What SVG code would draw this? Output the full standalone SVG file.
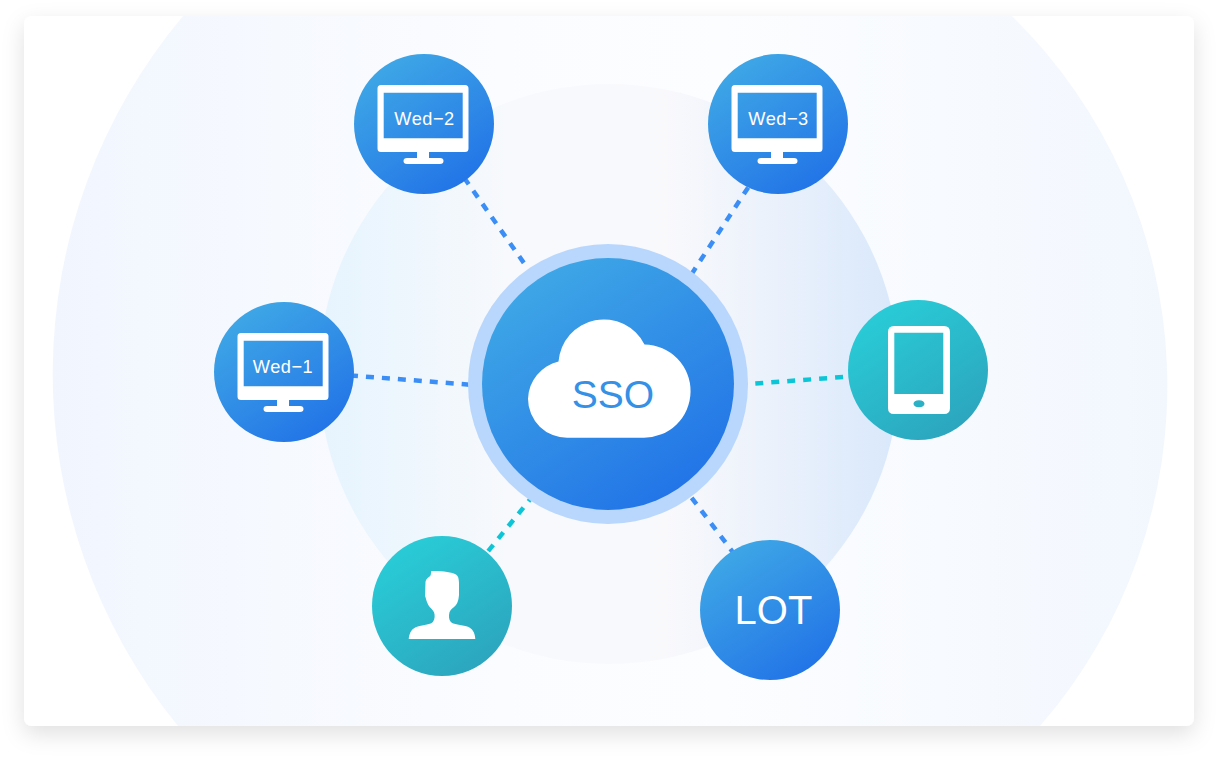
<svg xmlns="http://www.w3.org/2000/svg" width="1218" height="758" viewBox="0 0 1218 758">
<style>
.t{font-family:"Liberation Sans",Arial,sans-serif;text-anchor:middle}
.wt{fill:#fff;font-size:18.2px;letter-spacing:.5px}
.b{fill:url(#blue)}
.g{fill:url(#teal)}
.w{fill:#fff}
.c{fill:none;stroke-width:4.500;stroke-dasharray:8 8}
.cb{stroke:#3a8ef5}
.ct{stroke:#0cc6d8}
</style>
<defs>
<linearGradient id="blue" x1=".22" y1=".08" x2=".78" y2=".92"><stop offset="0" stop-color="#3ea6e6"/><stop offset="1" stop-color="#2375e7"/></linearGradient>
<linearGradient id="teal" x1=".22" y1=".08" x2=".78" y2=".92"><stop offset="0" stop-color="#29cbd7"/><stop offset="1" stop-color="#2ca6bf"/></linearGradient>
<linearGradient id="big" x1="0" y1="0" x2="1" y2="0"><stop offset="0" stop-color="#f1f6fe"/><stop offset=".4" stop-color="#fbfcff"/><stop offset=".6" stop-color="#fcfdff"/><stop offset="1" stop-color="#f2f7fe"/></linearGradient>
<linearGradient id="mid" x1="0" y1="0" x2="1" y2="0"><stop offset="0" stop-color="#e6f4fe"/><stop offset=".32" stop-color="#f7f9fc"/><stop offset=".6" stop-color="#f9f9fc"/><stop offset="1" stop-color="#d9e8fb"/></linearGradient>
<filter id="sh" x="-6%" y="-8%" width="112%" height="118%"><feDropShadow dx="0" dy="8" stdDeviation="11" flood-color="#000" flood-opacity=".12"/></filter>
<clipPath id="card"><rect x="24" y="16" width="1170" height="710" rx="8"/></clipPath>
<path id="mon" fill-rule="evenodd" d="M381 85H465Q468.500 85 468.500 88.500V148.500Q468.500 152 465 152H429V158H440Q443.500 158 443.500 161T440 164H407Q403.500 164 403.500 161T407 158H417V152H381Q377.500 152 377.500 148.500V88.500Q377.500 85 381 85ZM383.700 92.700V138.300H462.700V92.700Z"/>
</defs>
<g id="background">
<rect x="24" y="16" width="1170" height="710" rx="8" fill="#fff" filter="url(#sh)"/>
<g clip-path="url(#card)">
<path d="M183 16A557 557 0 0 0 178 726H1040A518 518 0 0 0 1012 16Z" fill="url(#big)"/>
<circle cx="609" cy="374" r="290" fill="url(#mid)"/>
</g>
</g>
<g id="connectors">
<path class="c cb" d="M464.100 177.700L526 266"/>
<path class="c cb" d="M748.200 187.400L690 276.500"/>
<path class="c cb" d="M350 375.400L470 384.700"/>
<path class="c ct" d="M755.300 383.500L850 376.500"/>
<path class="c ct" d="M488.200 551.100L532 497"/>
<path class="c cb" d="M682 485.100L735 555"/>
</g>
<g id="sso">
<circle cx="608" cy="384" r="140" fill="#b9d7fd"/>
<circle cx="608" cy="384" r="126" class="b"/>
<path class="w" d="M568 437.700A39 39 0 0 1 528 398.700A39.500 39.500 0 0 1 558.500 361.500A45.500 45.500 0 0 1 644.500 344.500A46.500 46.500 0 0 1 643.500 437.700Z"/>
<text class="t" x="613" y="408" font-size="39" fill="#3590e6">SSO</text>
</g>
<g id="wed-2">
<circle cx="424" cy="124" r="70" class="b"/>
<use href="#mon" class="w"/>
<text class="t wt" x="424.500" y="125">Wed−2</text>
</g>
<g id="wed-3">
<circle cx="778" cy="124" r="70" class="b"/>
<use href="#mon" x="354" class="w"/>
<text class="t wt" x="778.500" y="125">Wed−3</text>
</g>
<g id="wed-1">
<circle cx="284" cy="372" r="70" class="b"/>
<use href="#mon" x="-140" y="248" class="w"/>
<text class="t wt" x="283" y="373">Wed−1</text>
</g>
<g id="tablet">
<circle cx="918" cy="370" r="70" class="g"/>
<path class="w" fill-rule="evenodd" d="M894 326H944Q950 326 950 332V408Q950 414 944 414H894Q888 414 888 408V332Q888 326 894 326ZM894.300 332.700V394H943.300V332.700ZM919 400.200C915.500 400.200 913.500 401.800 913.500 403.700C913.500 405.600 915.500 407.200 919 407.200C922.500 407.200 924.500 405.600 924.500 403.700C924.500 401.800 922.500 400.200 919 400.200Z"/>
</g>
<g id="user">
<circle cx="442" cy="606" r="70" class="g"/>
<path class="w" d="M408.700 639C409.500 632 412 628.500 417 626.700C424 624.500 431 624.500 433 621.700C435 619 435 615 434 612.300C432.500 609 430 608 428.300 605C426.500 602 426 598 425 596L425.500 582C426 578 430 577 430.700 575L431.300 571C440 570.500 452 572 456 574.500C458.500 576 458.800 579 459 583L459 595C458.500 600 458 602 456 605C453.500 608 450.500 609 449.500 612.300C448.500 616 449 620 450.700 621.700C453 624.500 461 624.500 468 626.700C472 628.500 475 632 475.300 639Z"/>
</g>
<g id="lot">
<circle cx="770" cy="610" r="70" class="b"/>
<text class="t" x="773.500" y="624" font-size="40" fill="#fff">LOT</text>
</g>
</svg>
